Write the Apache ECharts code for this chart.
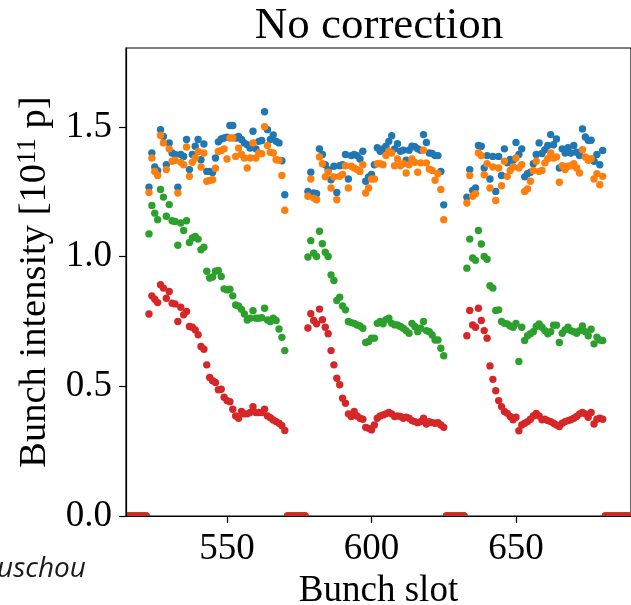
<!DOCTYPE html>
<html>
<head>
<meta charset="utf-8">
<script src="https://cdn.jsdelivr.net/npm/echarts@6/dist/echarts.min.js"></script>
<style>
  html, body { margin: 0; padding: 0; background: #fff; }
  #chart { width: 631px; height: 605px; }
</style>
</head>
<body>
<div id="chart"></div>
<script>
// Filled 25 ns trains: 48 bunches each, first slot of every train
const trainStarts = [523, 578, 633];
// Empty slots between trains (intensity 0)
const emptySlots = [515, 516, 517, 518, 519, 520, 521, 522,
  571, 572, 573, 574, 575, 576, 577,
  626, 627, 628, 629, 630, 631, 632,
  681, 682, 683, 684, 685, 686, 687, 688, 689, 690];

const xTicks = [550, 600, 650];
const yTicks = [0, 0.5, 1.0, 1.5];

// Bunch intensity per train, 1e11 protons
const blueTrain1 = [1.268, 1.400, 1.346, 1.332, 1.490, 1.464, 1.355, 1.439, 1.400, 1.394, 1.268, 1.394, 1.387, 1.452, 1.336, 1.394, 1.426, 1.452, 1.374, 1.435, 1.329, 1.329, 1.325, 1.381, 1.443, 1.454, 1.458, 1.461, 1.506, 1.506, 1.458, 1.464, 1.452, 1.439, 1.432, 1.419, 1.484, 1.416, 1.445, 1.448, 1.559, 1.490, 1.452, 1.470, 1.445, 1.439, 1.370, 1.239];
const blueTrain2 = [1.252, 1.326, 1.246, 1.243, 1.416, 1.394, 1.355, 1.336, 1.297, 1.349, 1.248, 1.351, 1.355, 1.394, 1.300, 1.390, 1.394, 1.390, 1.377, 1.407, 1.291, 1.308, 1.317, 1.355, 1.420, 1.407, 1.416, 1.426, 1.445, 1.467, 1.416, 1.436, 1.407, 1.411, 1.372, 1.411, 1.426, 1.424, 1.416, 1.411, 1.471, 1.441, 1.400, 1.398, 1.390, 1.390, 1.329, 1.200];
const blueTrain3 = [1.230, 1.336, 1.256, 1.265, 1.429, 1.426, 1.342, 1.390, 1.300, 1.387, 1.252, 1.387, 1.313, 1.416, 1.362, 1.375, 1.372, 1.441, 1.394, 1.416, 1.308, 1.320, 1.326, 1.359, 1.394, 1.439, 1.398, 1.413, 1.429, 1.471, 1.432, 1.454, 1.342, 1.416, 1.400, 1.420, 1.400, 1.429, 1.403, 1.390, 1.493, 1.462, 1.449, 1.449, 1.368, 1.394, 1.355, 1.410];

const orangeTrain1 = [1.248, 1.381, 1.329, 1.313, 1.468, 1.439, 1.336, 1.416, 1.368, 1.372, 1.246, 1.364, 1.355, 1.423, 1.310, 1.364, 1.381, 1.406, 1.346, 1.400, 1.291, 1.294, 1.297, 1.341, 1.406, 1.410, 1.416, 1.377, 1.458, 1.458, 1.387, 1.419, 1.394, 1.381, 1.342, 1.381, 1.439, 1.381, 1.400, 1.397, 1.501, 1.429, 1.403, 1.400, 1.374, 1.372, 1.313, 1.179];
const orangeTrain2 = [1.233, 1.300, 1.226, 1.220, 1.385, 1.359, 1.308, 1.326, 1.265, 1.308, 1.220, 1.310, 1.317, 1.351, 1.265, 1.349, 1.342, 1.336, 1.329, 1.355, 1.246, 1.265, 1.300, 1.300, 1.359, 1.359, 1.355, 1.390, 1.407, 1.400, 1.351, 1.377, 1.351, 1.359, 1.323, 1.355, 1.377, 1.364, 1.326, 1.362, 1.411, 1.362, 1.338, 1.333, 1.295, 1.320, 1.259, 1.143];
const orangeTrain3 = [1.207, 1.313, 1.233, 1.243, 1.400, 1.390, 1.316, 1.359, 1.265, 1.346, 1.217, 1.342, 1.274, 1.368, 1.310, 1.333, 1.346, 1.381, 1.342, 1.355, 1.252, 1.261, 1.291, 1.333, 1.368, 1.329, 1.333, 1.362, 1.378, 1.400, 1.381, 1.385, 1.287, 1.351, 1.336, 1.349, 1.351, 1.359, 1.342, 1.323, 1.413, 1.385, 1.372, 1.378, 1.300, 1.320, 1.278, 1.310];

const greenTrain1 = [1.088, 1.198, 1.168, 1.143, 1.259, 1.230, 1.156, 1.201, 1.139, 1.136, 1.044, 1.130, 1.101, 1.139, 1.055, 1.072, 1.078, 1.068, 1.027, 1.037, 0.944, 0.918, 0.922, 0.944, 0.947, 0.924, 0.876, 0.872, 0.875, 0.849, 0.814, 0.810, 0.797, 0.779, 0.756, 0.763, 0.792, 0.763, 0.763, 0.765, 0.801, 0.756, 0.750, 0.763, 0.754, 0.721, 0.689, 0.638];
const greenTrain2 = [0.999, 1.062, 1.014, 1.001, 1.098, 1.050, 1.017, 1.001, 0.930, 0.908, 0.831, 0.844, 0.810, 0.795, 0.750, 0.746, 0.743, 0.737, 0.733, 0.724, 0.669, 0.673, 0.686, 0.686, 0.743, 0.750, 0.741, 0.757, 0.763, 0.743, 0.737, 0.737, 0.731, 0.724, 0.715, 0.705, 0.743, 0.731, 0.711, 0.724, 0.750, 0.715, 0.711, 0.698, 0.679, 0.679, 0.647, 0.618];
const greenTrain3 = [0.956, 1.068, 0.995, 0.986, 1.101, 1.049, 1.001, 0.990, 0.888, 0.879, 0.793, 0.795, 0.750, 0.743, 0.741, 0.733, 0.728, 0.743, 0.596, 0.728, 0.677, 0.695, 0.703, 0.711, 0.731, 0.741, 0.728, 0.715, 0.703, 0.711, 0.736, 0.736, 0.669, 0.705, 0.718, 0.728, 0.715, 0.711, 0.705, 0.715, 0.733, 0.711, 0.695, 0.720, 0.664, 0.690, 0.679, 0.677];

const redTrain1 = [0.779, 0.849, 0.836, 0.823, 0.892, 0.879, 0.840, 0.866, 0.821, 0.818, 0.750, 0.805, 0.776, 0.789, 0.731, 0.728, 0.718, 0.699, 0.654, 0.643, 0.583, 0.534, 0.522, 0.515, 0.487, 0.489, 0.458, 0.445, 0.441, 0.412, 0.386, 0.377, 0.403, 0.394, 0.394, 0.399, 0.422, 0.399, 0.399, 0.399, 0.412, 0.386, 0.379, 0.370, 0.364, 0.358, 0.348, 0.330];
const redTrain2 = [0.725, 0.780, 0.754, 0.741, 0.798, 0.757, 0.728, 0.703, 0.638, 0.583, 0.531, 0.506, 0.454, 0.435, 0.394, 0.384, 0.403, 0.386, 0.377, 0.373, 0.342, 0.338, 0.332, 0.351, 0.377, 0.386, 0.390, 0.394, 0.399, 0.394, 0.384, 0.386, 0.384, 0.377, 0.381, 0.377, 0.368, 0.364, 0.360, 0.364, 0.377, 0.355, 0.364, 0.360, 0.358, 0.360, 0.351, 0.342];
const redTrain3 = [0.695, 0.793, 0.737, 0.728, 0.801, 0.754, 0.715, 0.686, 0.579, 0.527, 0.483, 0.445, 0.422, 0.403, 0.396, 0.384, 0.371, 0.381, 0.329, 0.351, 0.358, 0.364, 0.373, 0.386, 0.396, 0.386, 0.371, 0.373, 0.368, 0.364, 0.358, 0.351, 0.345, 0.358, 0.364, 0.368, 0.371, 0.377, 0.384, 0.394, 0.399, 0.394, 0.381, 0.399, 0.355, 0.373, 0.377, 0.373];

const curves = [
  { name: 'blue',   color: '#1f77b4', trains: [blueTrain1, blueTrain2, blueTrain3] },
  { name: 'orange', color: '#ff7f0e', trains: [orangeTrain1, orangeTrain2, orangeTrain3] },
  { name: 'green',  color: '#2ca02c', trains: [greenTrain1, greenTrain2, greenTrain3] },
  { name: 'red',    color: '#d62728', trains: [redTrain1, redTrain2, redTrain3] }
];

const SERIF = "'Liberation Serif', 'Times New Roman', serif";
const DOT = 7.4;
// Empty slots sit on the x axis; only the half above the axis is visible
const HALF_DISC = 'path://M0 10A10 10 0 0 1 20 10Z';

function buildData(trains) {
  const pts = [];
  emptySlots.forEach(s => pts.push({
    value: [s, 0],
    symbol: HALF_DISC,
    symbolSize: [DOT, DOT / 2],
    symbolOffset: [0, '-50%']
  }));
  trains.forEach((vals, t) => {
    vals.forEach((v, i) => pts.push([trainStarts[t] + i, v]));
  });
  return pts;
}

const chart = echarts.init(document.getElementById('chart'), null, { renderer: 'canvas' });

chart.setOption({
  animation: false,
  backgroundColor: '#fff',
  title: {
    text: 'No correction',
    left: 374, top: -1,
    textAlign: 'center',
    textStyle: { fontFamily: SERIF, fontSize: 45, fontWeight: 'normal', color: '#000' }
  },
  grid: {
    left: 126, top: 48, width: 505, height: 468,
    outerBoundsMode: 'none',
    containLabel: false,
    show: true, borderColor: '#000', borderWidth: 1.2, backgroundColor: 'transparent'
  },
  xAxis: {
    type: 'value',
    min: 515.05, max: 689.8,
    z: 10,
    name: 'Bunch slot',
    nameLocation: 'middle',
    nameGap: 45,
    nameTextStyle: { fontFamily: SERIF, fontSize: 37, color: '#000' },
    axisLine: { show: true, onZero: false, lineStyle: { color: '#000', width: 1.2 } },
    axisTick: { show: true, length: 7, customValues: xTicks, lineStyle: { color: '#000', width: 1.2 } },
    axisLabel: { customValues: xTicks, fontFamily: SERIF, fontSize: 37, color: '#000', margin: 15 },
    splitLine: { show: false }
  },
  yAxis: {
    type: 'value',
    min: 0, max: 1.805,
    z: 10,
    name: '{n|Bunch intensity [10}{s|11}{n| p]}',
    nameLocation: 'middle',
    nameRotate: 90,
    nameGap: 62,
    nameTextStyle: {
      rich: {
        n: { fontFamily: SERIF, fontSize: 38.5, color: '#000', lineHeight: 42 },
        s: { fontFamily: SERIF, fontSize: 27, color: '#000', verticalAlign: 'top', lineHeight: 42 }
      }
    },
    axisLine: { show: true, lineStyle: { color: '#000', width: 1.2 } },
    axisTick: { show: true, length: 7, customValues: yTicks, lineStyle: { color: '#000', width: 1.2 } },
    axisLabel: {
      customValues: yTicks,
      formatter: v => Number(v).toFixed(1),
      fontFamily: SERIF, fontSize: 37, color: '#000', margin: 14
    },
    splitLine: { show: false }
  },
  graphic: [{
    type: 'text',
    left: -3, top: 555,
    style: {
      text: 'uschou',
      font: "italic 28px 'Open Sans', 'Noto Sans', sans-serif",
      fill: '#1a1a1a'
    }
  }],
  series: curves.map(c => ({
    name: c.name,
    type: 'scatter',
    symbol: 'circle',
    symbolSize: DOT,
    itemStyle: { color: c.color, opacity: 1 },
    data: buildData(c.trains)
  }))
});
</script>
</body>
</html>
